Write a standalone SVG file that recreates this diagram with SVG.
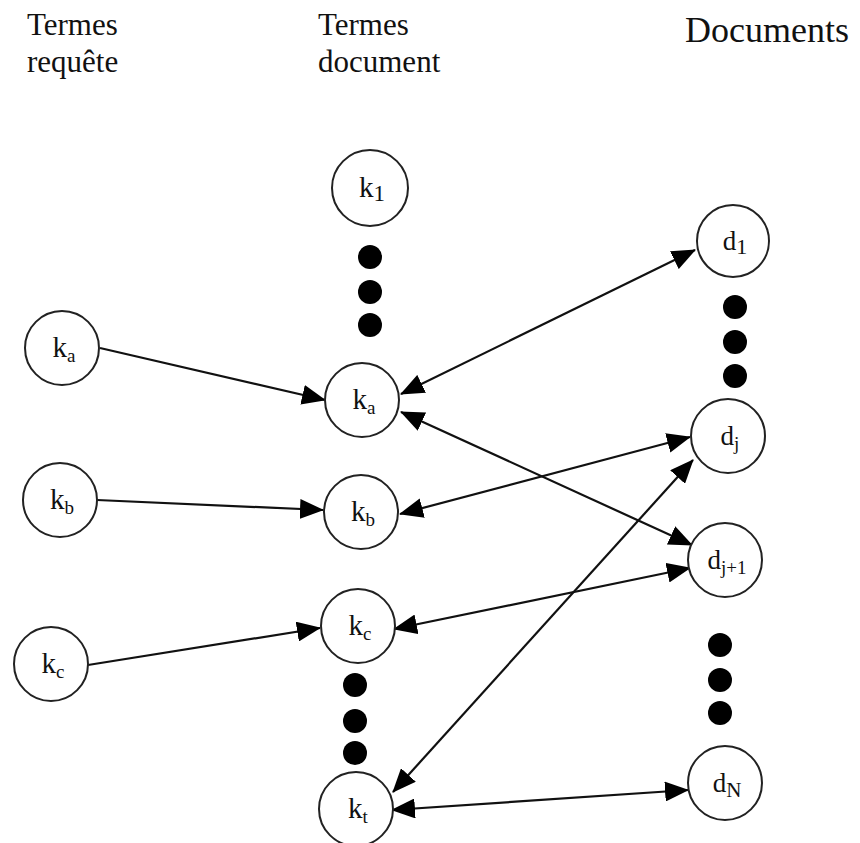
<svg xmlns="http://www.w3.org/2000/svg" width="860" height="843" viewBox="0 0 860 843">
<style>
text{font-family:"Liberation Serif","DejaVu Serif","Times New Roman",serif;fill:#111}
.hdr{font-size:31px}
.big{font-size:36px}
.node circle{fill:#fff;stroke:#222;stroke-width:2}
.lbl{font-size:29px;text-anchor:middle}
.sub{font-size:19px}
.dot{fill:#000}
.conn line{stroke:#111;stroke-width:2.2;fill:none}
</style>
<defs>
<marker id="ah" markerUnits="userSpaceOnUse" markerWidth="24" markerHeight="20" refX="23" refY="10" orient="auto-start-reverse">
<path d="M0,0 L24,10 L0,20 z" fill="#000"/>
</marker>
</defs>
<rect width="860" height="843" fill="#fff"/>
<g id="headers">
<text class="hdr" x="27" y="35">Termes</text>
<text class="hdr" x="27" y="72">requête</text>
<text class="hdr" x="318" y="35">Termes</text>
<text class="hdr" x="318" y="72">document</text>
<text class="big" x="685" y="42">Documents</text>
</g>
<g id="dots">
<circle class="dot" cx="370" cy="257" r="12"/>
<circle class="dot" cx="370" cy="292" r="12"/>
<circle class="dot" cx="370" cy="325" r="12"/>
<circle class="dot" cx="355" cy="685" r="12"/>
<circle class="dot" cx="355" cy="721" r="12"/>
<circle class="dot" cx="355" cy="753" r="12"/>
<circle class="dot" cx="735" cy="307" r="12"/>
<circle class="dot" cx="735" cy="342" r="12"/>
<circle class="dot" cx="735" cy="376" r="12"/>
<circle class="dot" cx="720" cy="645" r="12"/>
<circle class="dot" cx="720" cy="680" r="12"/>
<circle class="dot" cx="720" cy="713" r="12"/>
</g>
<g id="connectors" class="conn">
<line x1="100" y1="348" x2="325" y2="400" marker-end="url(#ah)"/>
<line x1="97" y1="500" x2="323" y2="510" marker-end="url(#ah)"/>
<line x1="88" y1="665" x2="320" y2="628" marker-end="url(#ah)"/>
<line x1="401" y1="394" x2="695" y2="250" marker-start="url(#ah)" marker-end="url(#ah)"/>
<line x1="401" y1="412" x2="692" y2="545" marker-start="url(#ah)" marker-end="url(#ah)"/>
<line x1="400" y1="514" x2="690" y2="437" marker-start="url(#ah)" marker-end="url(#ah)"/>
<line x1="393" y1="792" x2="693" y2="460" marker-start="url(#ah)" marker-end="url(#ah)"/>
<line x1="394" y1="629" x2="690" y2="568" marker-start="url(#ah)" marker-end="url(#ah)"/>
<line x1="392" y1="810" x2="688" y2="790" marker-start="url(#ah)" marker-end="url(#ah)"/>
</g>
<g id="q_ka" class="node"><circle cx="62" cy="348" r="37"/><text class="lbl" x="64" y="357">k<tspan class="sub" dy="5">a</tspan></text></g>
<g id="q_kb" class="node"><circle cx="60" cy="500" r="37"/><text class="lbl" x="62" y="509">k<tspan class="sub" dy="5">b</tspan></text></g>
<g id="q_kc" class="node"><circle cx="51" cy="664" r="37"/><text class="lbl" x="53" y="673">k<tspan class="sub" dy="5">c</tspan></text></g>
<g id="t_k1" class="node"><circle cx="370" cy="188" r="38"/><text class="lbl" x="372" y="197">k<tspan class="sub" dy="4" style="font-size:23px">1</tspan></text></g>
<g id="t_ka" class="node"><circle cx="362" cy="400" r="37"/><text class="lbl" x="364" y="409">k<tspan class="sub" dy="5">a</tspan></text></g>
<g id="t_kb" class="node"><circle cx="361" cy="512" r="37"/><text class="lbl" x="363" y="521">k<tspan class="sub" dy="5">b</tspan></text></g>
<g id="t_kc" class="node"><circle cx="358" cy="626" r="37"/><text class="lbl" x="360" y="635">k<tspan class="sub" dy="5">c</tspan></text></g>
<g id="t_kt" class="node"><circle cx="356" cy="809" r="37"/><text class="lbl" x="358" y="818">k<tspan class="sub" dy="5">t</tspan></text></g>
<g id="d_1" class="node"><circle cx="733" cy="241" r="36"/><text class="lbl" x="735" y="250" style="font-size:27px">d<tspan class="sub" dy="4" style="font-size:22px">1</tspan></text></g>
<g id="d_j" class="node"><circle cx="728" cy="436" r="37"/><text class="lbl" x="730" y="445" style="font-size:27px">d<tspan class="sub" dy="5">j</tspan></text></g>
<g id="d_j1" class="node"><circle cx="725" cy="560" r="37"/><text class="lbl" x="727" y="569" style="font-size:27px">d<tspan class="sub" dy="5">j+1</tspan></text></g>
<g id="d_N" class="node"><circle cx="725" cy="783" r="37"/><text class="lbl" x="727" y="792" style="font-size:27px">d<tspan class="sub" dy="5" style="font-size:21px">N</tspan></text></g>
</svg>
